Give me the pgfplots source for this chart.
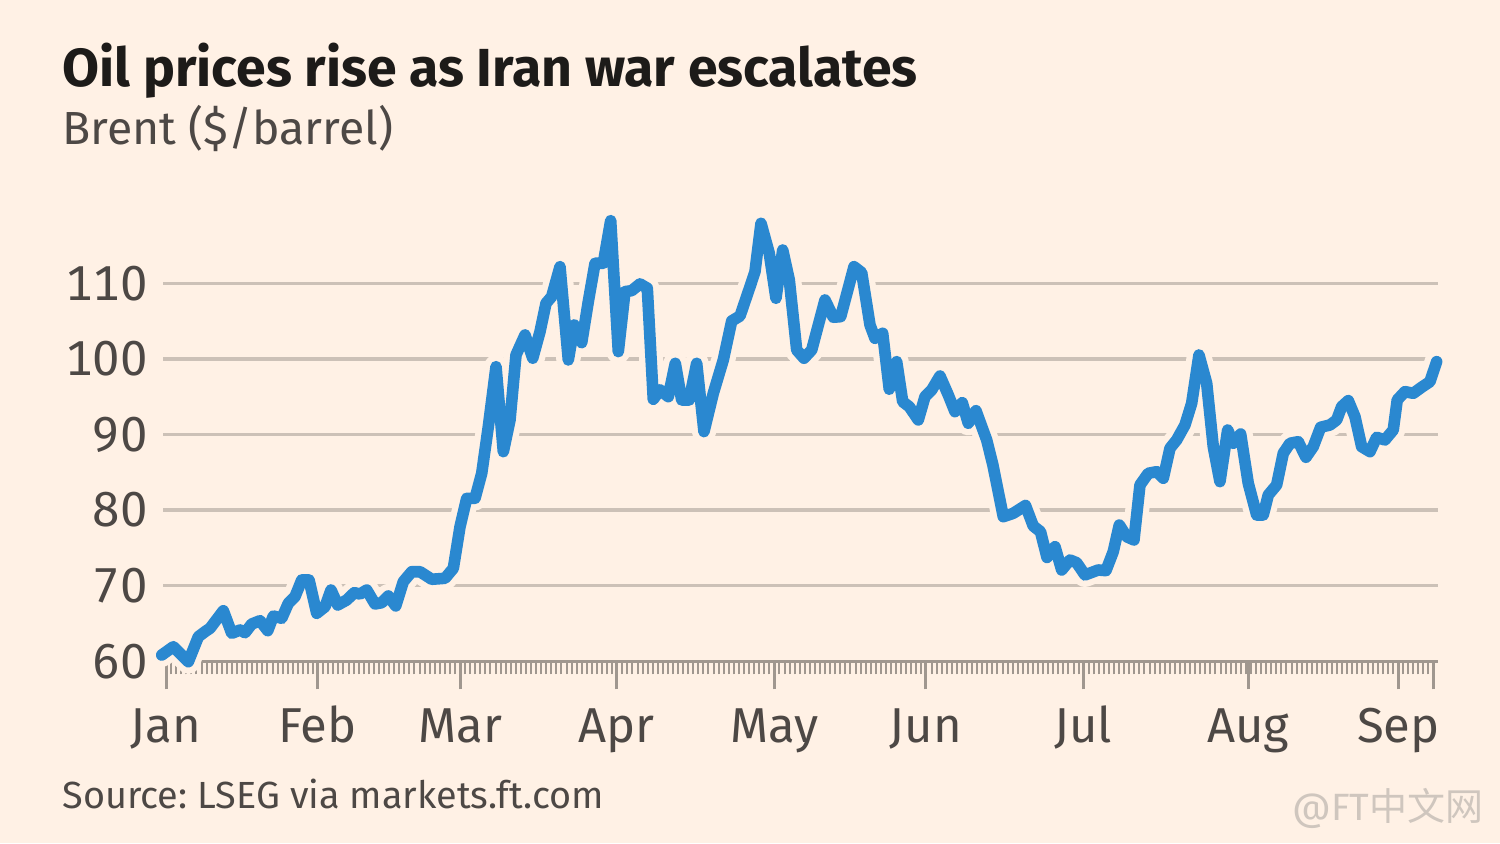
\documentclass[border=0pt]{standalone}
\usepackage{pgfplots}
\pgfplotsset{compat=1.18}
\usepackage{pgfplotstable}
\usepackage{fontspec}
\setmainfont{Fira Sans}
\newfontfamily\tickfont[Numbers=Monospaced]{Fira Sans}
\newfontfamily\cjk{Noto Sans CJK SC}
\frenchspacing
\definecolor{bg}{HTML}{FFF1E5}
\definecolor{titlec}{HTML}{1D1B19}
\definecolor{textc}{HTML}{4D4845}
\definecolor{gridc}{HTML}{CCC1B7}
\definecolor{axisc}{HTML}{A0978F}
\definecolor{linec}{HTML}{2A88D0}
\definecolor{wmark}{HTML}{CFC6BE}
\pgfplotstableread{
d v
-0.85 60.83
1.44 61.93
4.40 59.95
6.37 63.25
7.69 63.92
8.68 64.37
11.30 66.69
12.96 63.70
14.60 64.14
15.58 63.78
16.90 64.93
18.54 65.37
20.06 64.05
21.16 65.99
22.82 65.69
24.12 67.67
25.44 68.55
26.77 70.76
28.21 70.76
29.72 66.35
31.36 67.22
32.54 69.43
33.87 67.45
35.64 68.11
37.14 69.08
38.26 68.90
39.59 69.43
41.22 67.58
42.54 67.75
43.85 68.64
45.31 67.32
46.80 70.53
48.46 71.85
50.10 71.85
52.41 70.85
55.03 70.98
56.67 72.30
57.99 77.81
59.31 81.56
60.95 81.56
62.27 84.87
63.57 91.04
65.09 98.97
66.53 87.73
67.85 91.92
69.03 100.52
70.81 103.17
72.33 100.09
73.77 103.61
74.95 107.36
76.07 108.24
77.71 112.20
79.35 99.86
80.53 104.49
81.99 102.15
83.29 107.57
84.62 112.65
86.25 112.65
87.71 118.29
89.21 100.96
90.53 108.90
91.85 109.03
93.49 109.92
94.93 109.35
96.11 94.66
97.44 95.89
99.07 95.00
100.45 99.42
101.71 94.57
103.21 94.57
104.67 99.42
106.11 90.38
107.95 95.45
109.92 99.86
111.58 105.02
113.22 105.68
115.19 109.56
116.17 111.54
117.36 117.94
118.99 113.97
120.31 108.02
121.64 114.41
122.94 110.44
124.40 101.18
125.84 100.09
127.36 101.18
129.98 107.80
131.62 105.51
133.08 105.59
135.70 112.20
137.22 111.41
138.86 104.49
139.84 102.73
141.36 103.39
142.66 95.99
144.12 99.64
145.31 94.34
146.61 93.68
148.38 91.92
149.70 95.00
151.02 95.89
152.66 97.74
154.30 95.23
155.62 93.02
157.06 94.21
158.24 91.49
159.76 93.15
161.87 89.28
163.10 85.97
165.15 79.13
167.12 79.58
169.53 80.61
171.06 77.90
172.49 77.15
173.77 73.73
175.35 75.16
176.67 72.08
178.30 73.40
179.62 73.04
181.26 71.42
183.88 72.08
185.40 71.99
186.84 74.50
188.03 78.03
189.49 76.48
190.93 76.05
192.11 83.32
193.75 84.87
195.40 85.08
196.71 84.21
198.03 88.18
199.35 89.28
200.99 91.26
202.31 94.13
203.75 100.52
205.27 96.78
206.57 88.39
207.89 83.76
209.41 90.60
210.51 88.84
211.97 90.07
213.47 83.55
215.13 79.35
216.43 79.35
217.42 82.00
219.07 83.32
220.38 87.52
221.70 88.84
223.33 89.05
224.85 86.99
226.29 88.39
227.75 90.96
229.59 91.26
230.91 91.92
231.89 93.68
233.20 94.48
234.52 92.36
235.84 88.39
237.48 87.73
238.80 89.63
240.43 89.28
242.07 90.60
242.86 94.57
244.38 95.67
246.02 95.45
247.67 96.25
249.31 96.99
250.63 99.63
}\brent
\begin{document}
\begin{tikzpicture}
\fill[bg] (0pt,0pt) rectangle (750pt,421.5pt);
\useasboundingbox (0pt,0pt) rectangle (750pt,421.5pt);
\node[anchor=base west, inner sep=0pt, font=\fontsize{26.8}{32}\selectfont\bfseries, text=titlec] at (31pt,378pt) {Oil prices rise as Iran war escalates};
\node[anchor=base west, inner sep=0pt, font=\fontsize{23.2}{28}\selectfont, text=textc] at (31pt,349pt) {Brent (\$/barrel)};
\node[anchor=base west, inner sep=0pt, font=\fontsize{18.9}{24}\selectfont, text=textc] at (31pt,17.3pt) {Source: LSEG via markets.ft.com};
\node[anchor=base east, inner sep=0pt, font=\fontsize{19}{22}\selectfont, text=wmark] at (742pt,11.5pt) {@FT{\cjk 中文网}};
\begin{axis}[
  at={(81.5pt,90.85pt)}, anchor=south west,
  scale only axis, width=637.5pt, height=226.8pt,
  xmin=-0.6, xmax=250.9, ymin=60, ymax=120,
  clip=false,
  axis x line*=bottom, axis y line*=left,
  y axis line style={draw=none},
  x axis line style={draw=axisc, line width=1.4pt, -},
  tick align=outside,
  major tick length=14pt, minor tick length=6.5pt,
  major tick style={line width=1.5pt},
  minor tick style={line width=1pt},
  xtick style={draw=axisc},
  ytick style={draw=none},
  xtick={0,29.85,58,88.9,120.1,149.9,180.9,213.5,243.1,250.1},
  xticklabels={Jan,Feb,Mar,Apr,May,Jun,Jul,Aug,Sep,{}},
  minor xtick={0,1,...,250},
  ytick={70,80,90,100,110},
  extra y ticks={60},
  extra y tick style={grid=none},
  ymajorgrids=true,
  major grid style={draw=gridc, line width=1.7pt},
  /pgf/number format/assume math mode=true,
  ticklabel style={font=\tickfont\fontsize{24.5}{30}\selectfont, text=textc},
  yticklabel style={anchor=east, inner sep=0pt, xshift=6.5pt},
  xticklabel style={anchor=base, inner sep=0pt, yshift=-26.35pt},
]
\addplot[draw=bg, line width=12pt, line join=round, line cap=round] table[x=d, y=v] {\brent};
\addplot[draw=linec, line width=5.8pt, line join=round, line cap=round] table[x=d, y=v] {\brent};
\end{axis}
\end{tikzpicture}
\end{document}
